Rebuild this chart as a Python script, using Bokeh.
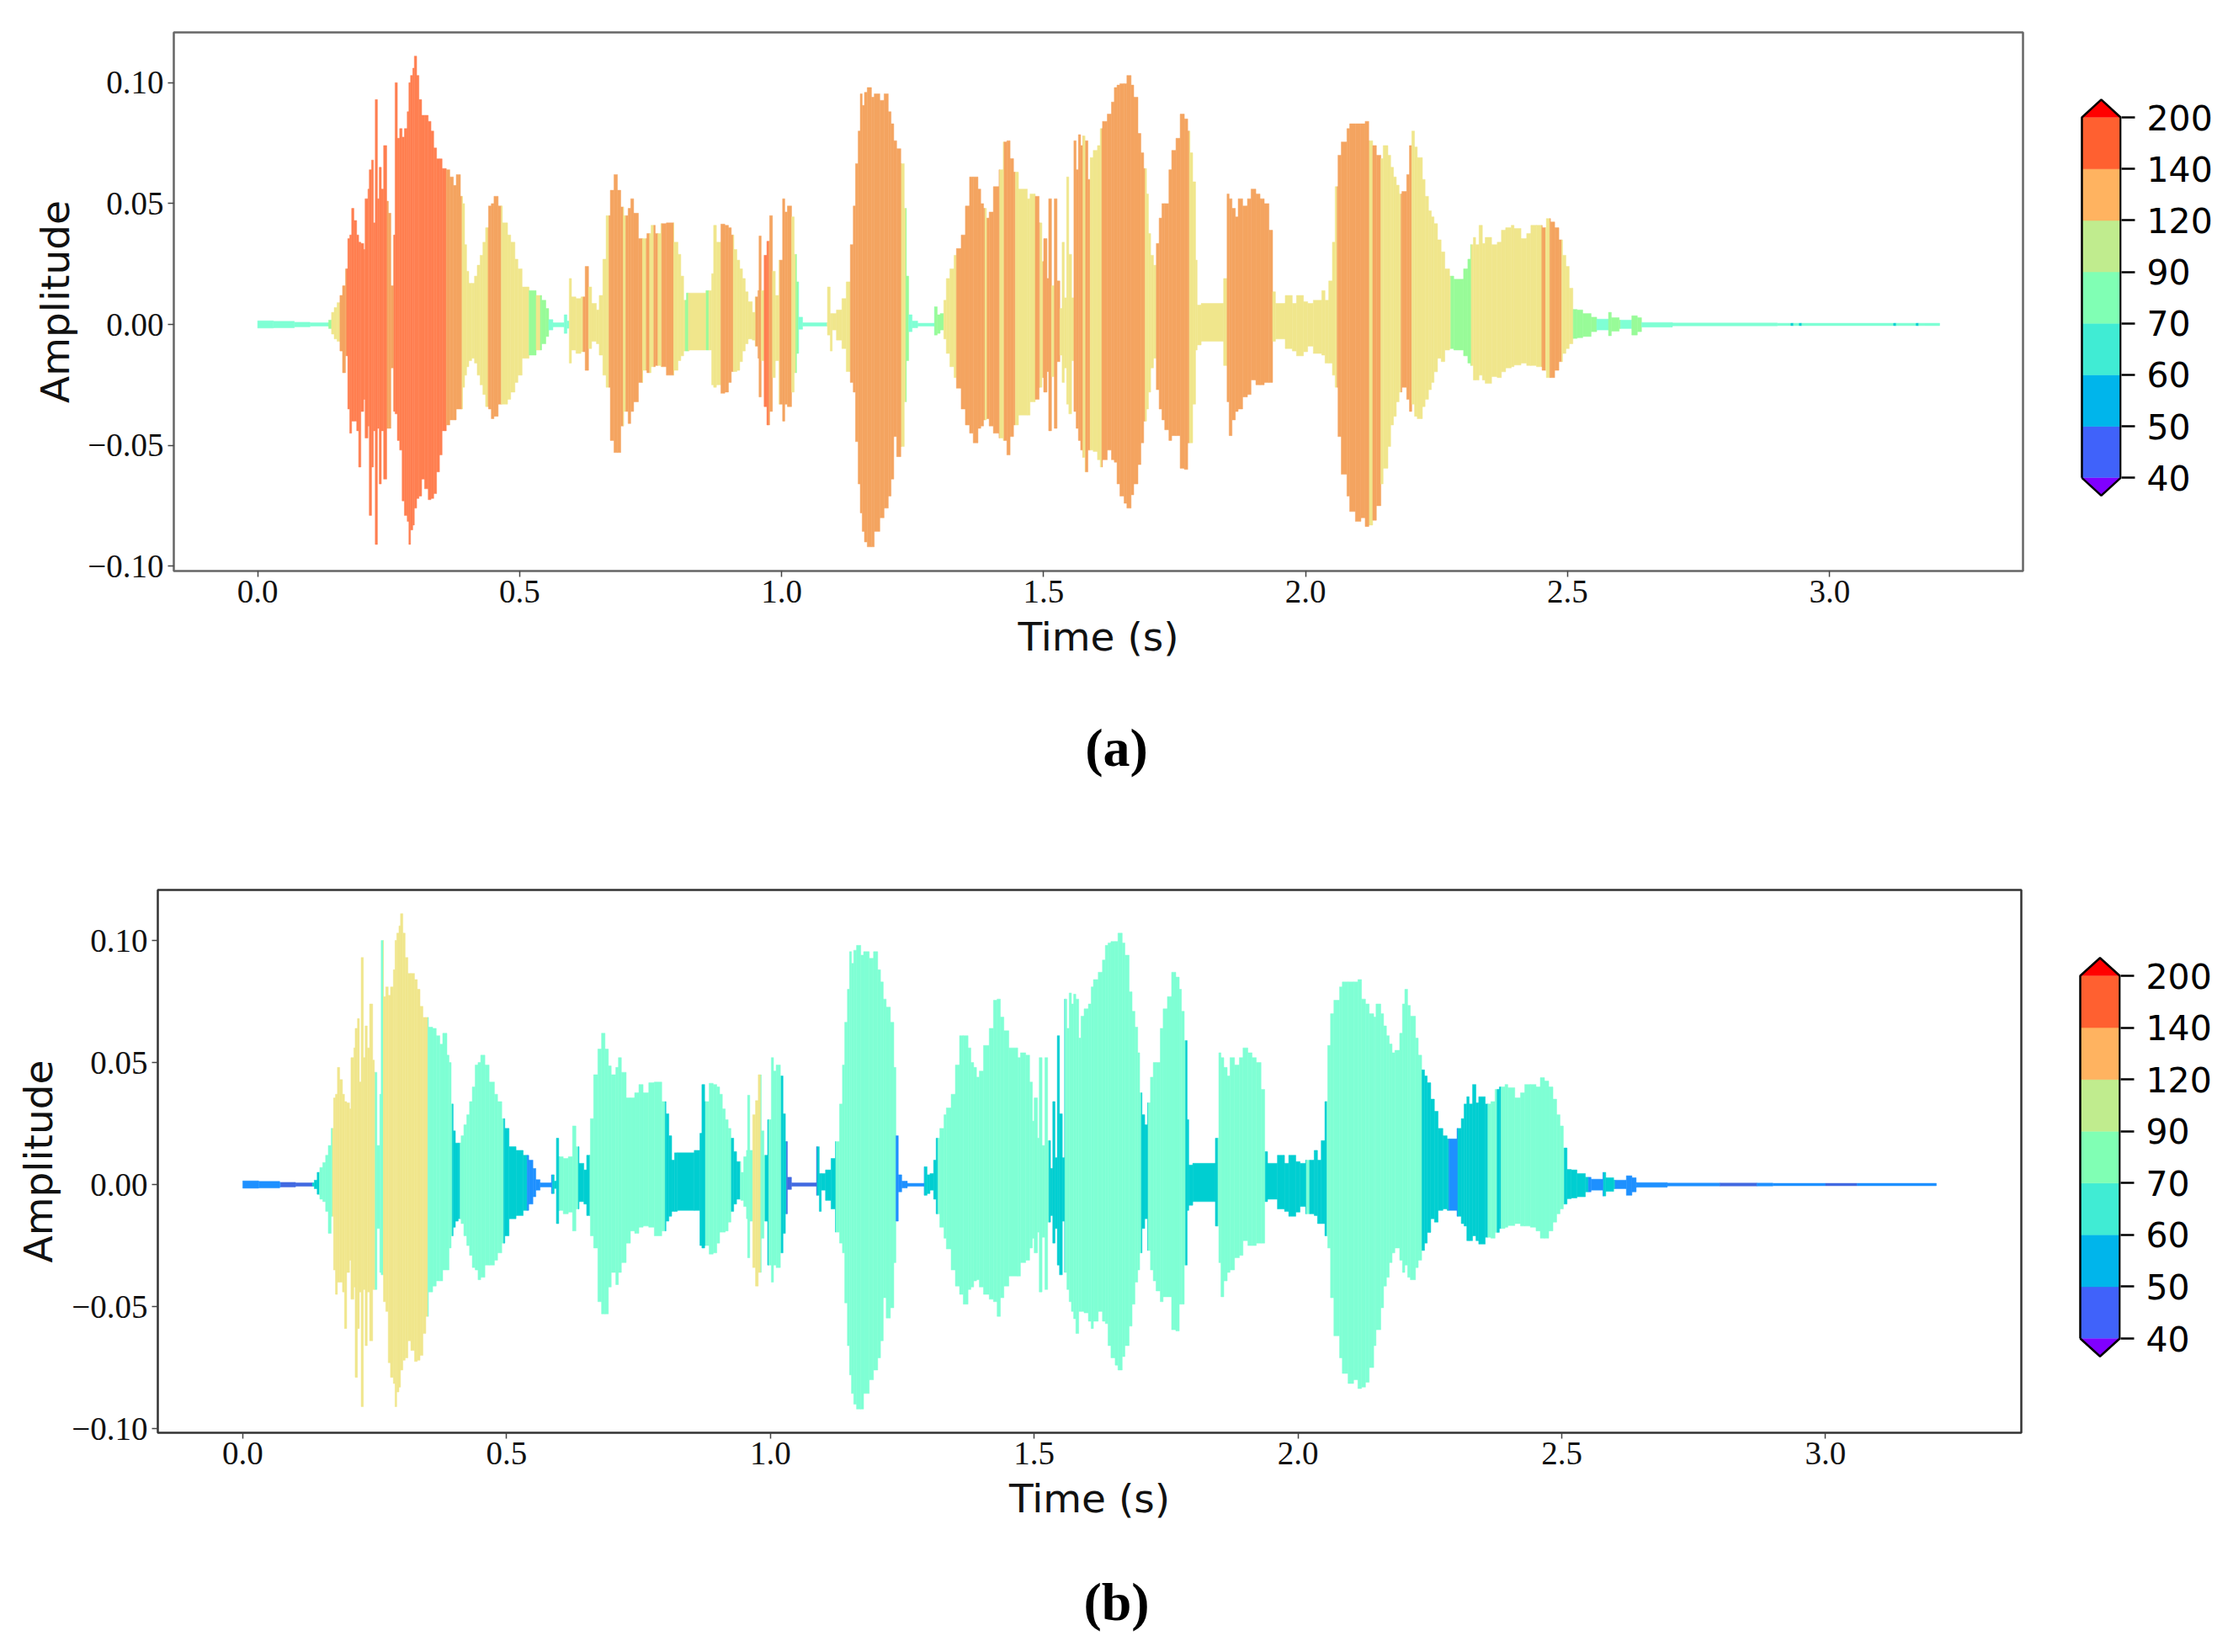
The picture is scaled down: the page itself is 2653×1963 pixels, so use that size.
import numpy as np
from bokeh.core.properties import value
from bokeh.embed import file_html
from bokeh.layouts import column, row
from bokeh.models import FixedTicker, Range1d, ColumnDataSource
from bokeh.plotting import figure
from bokeh.resources import INLINE

# Waveform envelope (shared by both panels): start of each step in ms, top and bottom amplitude in 1/1000
env_t = [0,30,70,100,135.5,141,146,151.6,157,162,167.6,172,175.7,179.4,183.7,189,192.8,197,202.4,205,210.5,213,217.4,221,224.4,228.6,232,236,240.4,246.3,249.5,254.3,259.7,262.3,266.6,271,275.7,280,285.4,288.6,291.8,296,299,303.5,307.8,313,318.5,325.5,330.8,336,341.5,347,352,360,366.7,373.6,379,387,391,395,398.8,403,408.4,413.8,419,424.5,429.8,435,440.5,445.9,451,459,467,477,483,491,496.7,504.7,518,531.5,542,550,555.5,563.5,585,590.3,594.6,598.9,607.4,617,625,631.5,637.4,646.5,651.8,658.8,665,673,680,686.6,693,698.4,707,712,717.6,726.7,734.8,742.8,750.8,758.8,769.5,780,
794.2,802.2,807.6,813,818.3,823.6,855.7,866.4,870.2,875.5,884,891.6,898.5,903.9,909,914.6,920,925.3,930.6,936,944,949.4,954.7,956.8,961,966.5,971.8,977,982.5,987.9,994.8,1001.8,1006,1010.9,1019,1024,1028.5,1032.3,1040,1087.4,1092.7,1096.5,1104.5,1115,1123.2,1131,1136.6,1140.9,1146,1150,1153.7,1158,1163.3,1171.4,1176.7,1187.4,1195.5,1203.5,1208.8,1214,1219.5,1227.5,1234,1238,1242.5,1249,1259.6,1291.8,1297,1302.5,1309.4,1314.2,1321,1329,1333.5,1342.6,1350.6,1358.6,1365.6,1374.7,1380,1385.4,1390.7,1396,1404,1414.8,1422.8,1429.8,1436,1442.6,1452,
1468.9,1474,1484,1491.4,1496.7,1500,1506.4,1509.6,1515,1520.3,1525.6,1531,1535.2,1539.5,1543.8,1548,1553.4,1557.7,1562,1566.3,1570.6,1574.8,1579,1584.5,1588.7,1594.6,1602.7,1608,1612.3,1621.4,1629.4,1634.8,1640,1645.5,1653.5,1658.8,1666.9,1672,1680,1685.6,1691,1696.3,1700,1704.3,1709.6,1715,1720.4,1725.7,1731,1739,1744.4,1752.5,1760.5,1768.5,1775,1779.2,1784.5,1790,1793,1800.6,1843.4,1850,1854,1859.5,1865.9,1871.2,1879.8,1888.9,1895.8,1905,1913,1921,1930,1937,1942.4,1961,1974.5,1982.5,1995.9,2003.9,2014.6,2030.7,2037,2044,2051,2056.3,2061.7,2068,2078.8,2084,2094.9,2105.5,2113.6,2120.5,2128,2135,
2143.6,2147.9,2157,2162.3,2167.7,2173,2178.4,2183.7,2192.8,2198,2202.5,2207.8,2213,2222.8,2228,2234.5,2239.9,2245,2251.7,2258.6,2265.6,2274.7,2282.7,2301.4,2309.5,2314.8,2320,2324.4,2330.9,2337.3,2342.6,2354.9,2365.6,2373.6,2381.7,2392.4,2397.7,2411,2421.8,2429.8,2440.5,2451.2,2459.3,2467.3,2475.3,2483.3,2490.3,2496.7,2503,2510,2518,2528.8,2544.8,2555.5,2578,2583.4,2598.4,2622.4,2633,2641,2700,2900,3210]
env_up = [1.5,1.3,0.9,0.7,1.8,5,7,9,12,16,23,35.5,37,48,43,37,34,33.5,31,52,56,64,68,42,93,52,65,56,74,51,46,16,37,100,77,81,77.5,81,88,100,103,106,111,103,93,86.5,86.5,84,80,73,68.5,68.5,64.5,64,61,57.5,62,53,50,33,22,17,17,20,24.5,28.6,34,40,49,50,53,49,42,37,34,27,23,15.5,14,12,10,6.6,2,0.7,4,1.4,19,11.4,10.7,11.4,24,15.5,8.7,6,12,27,45,55.5,62,55.5,48.6,45,48,52,46,35.5,35.5,37.6,41,37.6,41.7,42,
34,29,20,10,13,13,14,21,41,34,41.5,41,40,37,31,26.6,23,19,13.5,9.4,5,11.4,14,36.6,14,28.6,34.4,45,22,12,26.6,52,46.5,49,44.5,29,17.6,3,0.7,15.5,4.5,4.5,6,10.7,17.6,33,49,66.5,80,95.4,90.6,96,98,94,95.4,92.7,95.4,88,83,76,72.7,66.5,48,20,4,1.4,0.5,7.3,4,4.5,10,19,23,28.6,31.4,37,49,61,61,56,50,48,44,46.5,57,64,75.5,76,68.6,63,56,
52,54,53,42,26,35.5,19,52,16,52,18,6.6,34,11,61,29,11,76,64,78.5,74,78,76,60,69,72,74,81,84,87,92,98,99,99.6,99.6,103,99,94,79,71,64.5,54,37.6,28.6,24.5,33.5,44,50,50,64,72,77,87,85,80,71,59,26.6,8,8.7,19,54,52,48,44.5,52,49,52,56,54,52,50,39,13.5,8.7,12,8.7,12,9.4,8.7,10,14,10,18,34,57,70,75.5,81,83,83,83,84,76,74,70,
68.6,74,70,65,61,57.6,54,55,62,74,80,73.4,69,60,53,47,44.5,41.7,35,30,23,20,18.7,23,27,33,36,33,41,33.5,36,33,34,39,40,41,39.7,35.5,37.6,41,41,40,43.8,42.4,40,35,28.6,24,15,6.2,6,4.5,3,2.2,5,2.8,1.8,3.6,2.8,0.8,0.6,0.5]
env_lo = [1.5,1.4,1,0.7,1.7,4,6,7,11,20,13,35,45,40,40,44,59,36,31,47,42,79,59,44,91,43,66,44,64,43,43,18,36,37,48,52,73,79,81.5,91,85,83,76,72,71,64,68,72.5,72,70,61,54,44,41.6,39.5,39.5,35,35,26,21,17.5,15,14,16,21,25,29,34,35,39,38,33,33,31,28,24,21,14,12.7,10.6,8,5,2.3,1,3.7,1.6,16,10.6,12,11.3,19,10,7,8,12.7,21,26,48,53,53,42,36,41,36,32,24,19,20,17.5,17,17.5,21,
19,15,13,11,11,10.6,10.6,25,26,25,28.5,28,24,19.5,19.5,19,15.4,11,8,6,6.5,9,14,30,15,34,41.6,36,22,15,33,40,33,34,28,20,12,2,0.7,4.4,11,2.3,6.5,10,19.5,24,28,48.5,66,78,85.6,90,92,92,85.6,80,76,71,64,46.4,54.7,50.5,32,15,3,1.4,0.7,4.4,3.7,2.3,6,12,17.5,22,26.4,35,41.6,45,49,43,42,39.5,39,42,45,47,48,54,46.4,41.6,37.5,
37.5,32,31,26,22,28,19.5,44,21.6,43,15.4,12.7,24,18,33,37,15,36,43,48,52,55,61,52,52,52.6,56,59,56,52,56,57,66,71,74,76,70.5,66,58,49,40,35,28,18,14,27,35,39.5,43.6,48,46,46,59.5,60,49,49,33,10.6,8.5,7,17,32,46,39.5,36,35,30,29,23,25,25,24,24,7,6,10,11,13,11.3,9,12,12.7,16,16,21,26,46.4,62,71,77.4,81.5,80,83.6,83,81,75,
66,59.5,50.5,41.6,38,32,28,26,31,36,33,38,39,34,31,27,24,19.6,14,15.4,10.6,10,10.6,13,16,17,23,23,21,23,24.4,21.6,22,19.6,18,17.5,16.8,16,17,17,17.5,19,22,22,19,15.4,12,10,8,5.8,5.5,5,3,2.3,4.7,2.8,1.7,4.4,3,1.1,0.6,0.5]

# Colour of each stretch of the waveform: start of stretch in ms and its colour index
wave_colors = ["#4169e1", "#1e90ff", "#00ced1", "#7fffd4", "#98fb98", "#f0e68c", "#f4a460", "#ff7f50"]
a_t = [0,135,141,157,170,247,260,360,390,440,465,518,531.5,539.5,555.5,594.6,621,631.5,670.5,698,702.5,734.5,741.5,748,756,764,771,794,816,822,856,861,884,907.6,950.4,961,966.5,976,982.5,996.4,1019,1027,1032,1087,1131,1228.6,1237,1242.5,1292,1309.4,1333.5,1388,1392,1416,1424.4,1446,1484,1493,1499,1515,1520.3,1531,1557.7,1575,1580,1588.7,1611,1693.6,1715,1778,1850,1937,2060,2121.6,2128,2143.6,2182,2202.5,2212,2277,2316,2451,2458,2466,2488.7,2510.6,2555.5,2578,2601,2622.4,2641,2926,2931,2942,2947,3122,3127,3165,3170]
a_lev = [3,4,5,6,7,6,7,6,5,6,5,4,5,4,3,5,6,5,6,5,6,5,6,5,6,5,6,5,4,5,4,5,6,5,6,5,7,6,5,6,5,4,3,5,6,5,4,3,4,5,6,5,6,5,6,5,6,5,6,5,6,5,6,5,6,5,6,5,6,5,6,5,6,5,6,5,6,5,5,4,5,6,5,6,5,4,3,4,3,4,3,2,3,2,3,2,3,2,3]
b_t = [0,72,132,145.4,170,251,266.5,351,397,412,494.4,539,587,595,600,636,658,800.7,870,877,926,943,966.5,982,990,997,1020.5,1030.6,1088.7,1124,1238,1292,1317.6,1528,1558.4,1703,1716,1787,1848.3,1938,2016,2022,2034.6,2055,2235,2286,2303,2360,2377.4,2385,2504.7,2550.4,2579,2601,2642,2800,2870,3000,3060]
b_lev = [1,0,2,3,5,3,5,3,2,3,2,1,2,2,3,2,3,2,2,3,2,3,5,3,2,3,2,0,2,3,1,2,3,2,3,2,3,2,3,2,3,2,2,3,2,1,2,3,2,3,2,1,2,1,1,0,1,0,1]

# Colour bar
cbar_colors = ["#4062fa", "#00b5eb", "#40ecd4", "#80ffb4", "#c0ec8e", "#ffb360", "#ff6030"]
cbar_under = "#8000ff"
cbar_over = "#ff0000"
cbar_labels = ["40", "50", "60", "70", "90", "120", "140", "200"]

# Axis ticks
x_ticks = [0.0, 0.5, 1.0, 1.5, 2.0, 2.5, 3.0]
x_labels = ["0.0", "0.5", "1.0", "1.5", "2.0", "2.5", "3.0"]
y_ticks = [-0.10, -0.05, 0.0, 0.05, 0.10]
y_labels = ["\u22120.10", "\u22120.05", "0.00", "0.05", "0.10"]


def wave_source(seg_t, seg_lev):
    t = np.array(env_t, dtype=float)
    st = np.array(seg_t, dtype=float)
    edges = np.unique(np.concatenate([t, st[st < t[-1]]]))
    left, right = edges[:-1], edges[1:]
    i = np.searchsorted(t, left, side="right") - 1
    j = np.searchsorted(st, left, side="right") - 1
    cols = [wave_colors[seg_lev[k]] for k in j]
    return ColumnDataSource(dict(
        left=left / 1000, right=right / 1000,
        top=np.array(env_up)[i] / 1000, bottom=-np.array(env_lo)[i] / 1000, color=cols))


def wave_fig(width, height, borders, xr, yr, seg_t, seg_lev, spine, standoff):
    top, right, bottom, left = borders
    p = figure(width=width, height=height, output_backend="svg", toolbar_location=None,
               x_range=Range1d(*xr), y_range=Range1d(*yr),
               min_border_top=top, min_border_right=right, min_border_bottom=bottom, min_border_left=left,
               x_axis_label="Time (s)", y_axis_label="Amplitude")
    p.quad(left="left", right="right", top="top", bottom="bottom", source=wave_source(seg_t, seg_lev),
           fill_color="color", line_color="color", line_width=0.5)
    p.grid.visible = False
    p.outline_line_color = spine
    p.outline_line_width = 2.5
    p.outline_line_alpha = 1
    for ax, ticks, labels in ((p.xaxis[0], x_ticks, x_labels), (p.yaxis[0], y_ticks, y_labels)):
        ax.ticker = FixedTicker(ticks=ticks)
        ax.major_label_overrides = dict(zip(ticks, labels))
        ax.minor_tick_line_color = None
        ax.axis_line_color = None
        ax.major_tick_line_color = "#444444"
        ax.major_tick_line_width = 1.5
        ax.major_tick_out = 7
        ax.major_tick_in = 0
        ax.major_label_text_font = "Liberation Serif"
        ax.major_label_text_font_size = "39px"
        ax.major_label_text_color = "#111111"
        ax.axis_label_text_font = "DejaVu Sans"
        ax.axis_label_text_font_size = "47px"
        ax.axis_label_text_font_style = "normal"
        ax.axis_label_text_color = "#111111"
    p.xaxis[0].major_label_standoff = 4
    p.xaxis[0].axis_label_standoff = 10
    p.yaxis[0].major_label_standoff = 5
    p.yaxis[0].axis_label_standoff = standoff
    return p


def cbar_fig(width, height, borders, xr, yr):
    top, right, bottom, left = borders
    p = figure(width=width, height=height, output_backend="svg", toolbar_location=None,
               x_range=Range1d(*xr), y_range=Range1d(*yr), y_axis_location="right",
               min_border_top=top, min_border_right=right, min_border_bottom=bottom, min_border_left=left)
    n = len(cbar_colors)
    tip = 0.345
    p.quad(left=[0] * n, right=[1] * n, bottom=list(range(n)), top=list(range(1, n + 1)),
           fill_color=cbar_colors, line_color=cbar_colors, line_width=0.5)
    p.patch([0, 0.5, 1], [n, n + tip, n], fill_color=cbar_over, line_color=None)
    p.patch([0, 0.5, 1], [0, -tip, 0], fill_color=cbar_under, line_color=None)
    p.line([0, 0, 0.5, 1, 1, 0.5, 0], [0, n, n + tip, n, 0, -tip, 0], line_color="black", line_width=2.5)
    p.grid.visible = False
    p.outline_line_color = None
    p.xaxis.visible = False
    ax = p.yaxis[0]
    ticks = list(range(n + 1))
    ax.ticker = FixedTicker(ticks=ticks)
    ax.major_label_overrides = dict(zip(ticks, cbar_labels))
    ax.minor_tick_line_color = None
    ax.axis_line_color = None
    ax.major_tick_line_color = "black"
    ax.major_tick_line_width = 2.5
    ax.major_tick_out = 16
    ax.major_tick_in = 0
    ax.major_label_standoff = 14
    ax.major_label_text_font = "DejaVu Sans"
    ax.major_label_text_font_size = "41px"
    ax.major_label_text_color = "black"
    return p


def caption_fig(text, height, y):
    p = figure(width=2645, height=height, output_backend="svg", toolbar_location=None,
               x_range=Range1d(0, 2645), y_range=Range1d(0, height),
               min_border=0, x_axis_location=None, y_axis_location=None)
    p.grid.visible = False
    p.outline_line_color = None
    p.text(x=[1326], y=[y], text=[text], text_font=value("Liberation Serif"), text_font_style="bold",
           text_font_size="64px", text_align="center", text_baseline="middle", text_color="black")
    return p


fa = wave_fig(2405, 850, (38, 2, 172, 206), (-0.16, 3.369), (-0.102, 0.1208), a_t, a_lev, "#666666", 8)
ca = cbar_fig(240, 850, (38, 125, 172, 65), (-0.065, 1.022), (-1.809, 8.651))
cap_a = caption_fig("(a)", 80, 42)
fb = wave_fig(2403, 930, (127, 2, 158, 187), (-0.161, 3.371), (-0.1017, 0.1207), b_t, b_lev, "#333333", 9)
cb = cbar_fig(242, 930, (127, 126, 158, 65), (-0.064, 1.021), (-1.819, 8.657))
cap_b = caption_fig("(b)", 90, 47)

page = column(row(fa, ca), cap_a, row(fb, cb), cap_b, spacing=0)
open("out.html", "w").write(file_html(page, INLINE))
